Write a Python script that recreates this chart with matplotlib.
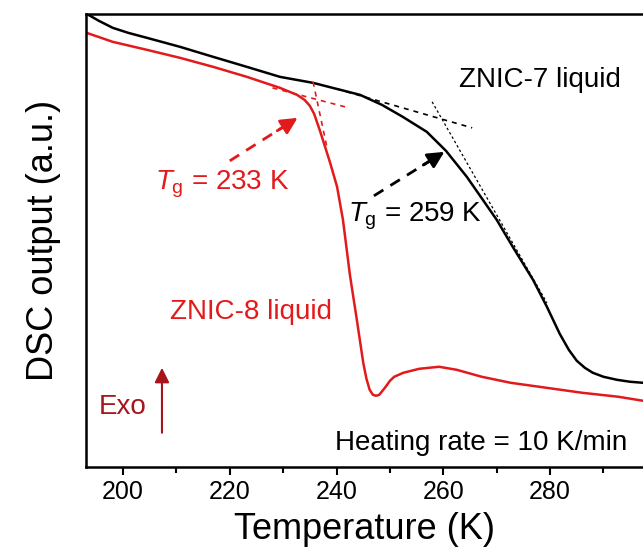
import numpy as np
import matplotlib
matplotlib.use("Agg")
import matplotlib.pyplot as plt
from matplotlib.ticker import MultipleLocator

plt.rcParams['font.family'] = ['Liberation Sans', 'DejaVu Sans']
plt.rcParams['mathtext.fontset'] = 'custom'
plt.rcParams['mathtext.rm'] = 'Liberation Sans'
plt.rcParams['mathtext.it'] = 'Liberation Sans:italic'

# ZNIC-7 liquid (black)
t7 = [193.2, 195.5, 198.1, 201.0, 204.5, 210.7, 216.9, 223.2, 229.4, 235.6,
      240.0, 244.4, 248.5, 252.4, 256.9, 260.5, 264.4, 267.4, 270.0, 273.0,
      276.8, 279.4, 281.8, 283.5, 285.0, 286.5, 288.0, 290.0, 292.5, 295.0,
      297.4]
dsc7 = [4.53, 4.46, 4.39, 4.34, 4.29, 4.20, 4.10, 4.00, 3.90, 3.84,
        3.78, 3.72, 3.62, 3.50, 3.35, 3.16, 2.90, 2.67, 2.47, 2.20,
        1.87, 1.60, 1.33, 1.17, 1.06, 0.99, 0.94, 0.90, 0.87, 0.85,
        0.84]

# ZNIC-8 liquid (red)
t8 = [193.2, 198.1, 204.5, 210.7, 216.9, 223.2, 229.4, 232.6, 234.0, 235.0,
      235.8, 236.9, 238.8, 240.1, 241.2, 242.5, 243.8, 245.0, 245.6, 246.2,
      246.8, 247.4, 248.0, 248.6, 249.2, 250.0, 250.8, 252.5, 255.5, 259.2,
      262.5, 267.2, 272.6, 279.3, 286.0, 292.8, 297.4]
dsc8 = [4.34, 4.25, 4.17, 4.09, 4.00, 3.90, 3.79, 3.72, 3.67, 3.61,
        3.53, 3.36, 3.04, 2.80, 2.47, 1.92, 1.47, 1.04, 0.88, 0.77,
        0.72, 0.71, 0.72, 0.76, 0.80, 0.86, 0.90, 0.94, 0.98, 1.00,
        0.97, 0.90, 0.84, 0.79, 0.74, 0.70, 0.66]

# tangent lines used for Tg (T pairs, DSC pairs)
tan8_base = ([228.0, 241.6], [3.79, 3.60])
tan8_step = ([235.6, 238.3], [3.85, 3.17])
tan7_base = ([240.0, 265.4], [3.78, 3.39])
tan7_step = ([257.9, 279.4], [3.65, 1.64])

red = '#e31a1c'
darkred = '#a8141c'

fig = plt.figure(figsize=(6.43, 5.55), dpi=100)
ax = fig.add_axes([0.134, 0.159, 0.866, 0.816])

ax.plot(t7, dsc7, color='black', lw=1.8)
ax.plot(t8, dsc8, color=red, lw=1.8)

ax.plot(*tan8_base, color=red, lw=1.2, ls=(0, (3, 3)))
ax.plot(*tan8_step, color=red, lw=1.2, ls=(0, (3, 3)))
ax.plot(*tan7_base, color='black', lw=1.2, ls=(0, (3, 3)))
ax.plot(*tan7_step, color='black', lw=0.9, ls=(0, (2, 2)))

# dashed arrows pointing at the Tg positions
def dashed_arrow(x0, y0, x1, y1, c):
    ax.plot([x0, x0 + 0.8 * (x1 - x0)], [y0, y0 + 0.8 * (y1 - y0)],
            color=c, lw=2, ls=(0, (4, 3)))
    ax.annotate('', xy=(x1, y1), xytext=(x0 + 0.7 * (x1 - x0), y0 + 0.7 * (y1 - y0)),
                arrowprops=dict(arrowstyle='-|>', color=c, lw=2,
                                mutation_scale=25, shrinkA=0, shrinkB=0))

dashed_arrow(220.0, 3.06, 232.7, 3.49, red)
dashed_arrow(247.0, 2.71, 260.2, 3.15, 'black')

ax.annotate('', xy=(207.3, 0.99), xytext=(207.3, 0.34),
            arrowprops=dict(arrowstyle='-|>', color=darkred, lw=1.5,
                            mutation_scale=22, shrinkA=0, shrinkB=0))

fs = 20
ax.text(262.9, 3.87, 'ZNIC-7 liquid', fontsize=fs, va='center')
ax.text(206.0, 2.82, r'$\mathit{T}_{\mathrm{g}}$ = 233 K', fontsize=fs, va='center', color=red)
ax.text(242.2, 2.50, r'$\mathit{T}_{\mathrm{g}}$ = 259 K', fontsize=fs, va='center')
ax.text(208.8, 1.55, 'ZNIC-8 liquid', fontsize=fs, va='center', color=red)
ax.text(195.4, 0.60, 'Exo', fontsize=fs, va='center', color=darkred)
ax.text(239.8, 0.24, 'Heating rate = 10 K/min', fontsize=fs, va='center')

ax.set_xlim(193.1, 297.4)
ax.set_ylim(0, 4.53)
ax.xaxis.set_major_locator(MultipleLocator(20))
ax.xaxis.set_minor_locator(MultipleLocator(10))
ax.tick_params(axis='x', which='major', direction='out', length=6, width=1.5, labelsize=18)
ax.tick_params(axis='x', which='minor', direction='out', length=4, width=1.5)
ax.set_yticks([])
ax.spines['right'].set_visible(False)
for s in ['left', 'top', 'bottom']:
    ax.spines[s].set_linewidth(1.8)

ax.set_xlabel('Temperature (K)', fontsize=26, labelpad=6)
ax.set_ylabel('DSC output (a.u.)', fontsize=26, labelpad=18)

fig.savefig('out.png', dpi=100)
